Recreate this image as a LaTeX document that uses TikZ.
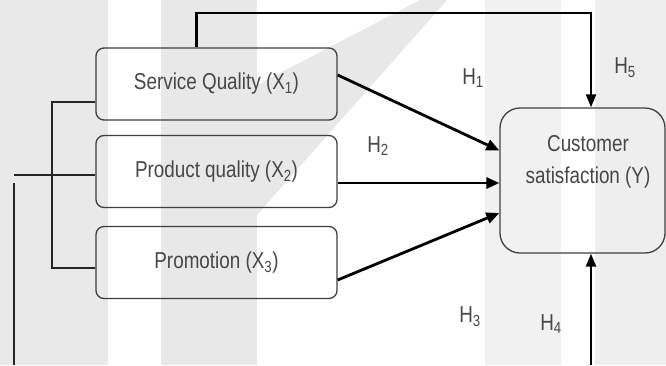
\documentclass[tikz,border=0pt]{standalone}
\usepackage{fontspec}
\setmainfont{Liberation Sans}[FakeStretch=0.82]
\usetikzlibrary{arrows.meta}
\begin{document}
\begin{tikzpicture}[x=1pt,y=-1pt,
  box/.style={draw=black!75, line width=1.3pt, rounded corners=8pt, minimum width=241pt, minimum height=72pt, inner sep=0pt, text=black!72, font=\fontsize{23}{30}\selectfont},
  ybox/.style={draw=black!75, line width=1.3pt, rounded corners=20pt, minimum width=165pt, minimum height=145pt, inner sep=0pt},
  txt/.style={text=black!72, font=\fontsize{23}{32}\selectfont, inner sep=0pt},
  arr/.style={line width=2.8pt, -{Triangle[length=13pt,width=11pt]}},
  varr/.style={line width=2.2pt, -{Triangle[length=13pt,width=10pt]}},
  thinline/.style={line width=1.3pt, draw=black!85},
]
\useasboundingbox (0,0) rectangle (666,365);
% watermark background
\fill[gray!17] (0,0) rectangle (108,365);
\fill[gray!18] (161,0) rectangle (257,365);
\fill[gray!18] (420,0) -- (447,0) -- (257,215) -- (257,85) -- cycle;
\fill[gray!11] (485,0) rectangle (561,365);
\fill[gray!13] (595,0) rectangle (666,365);
% nodes
\node[box] (x1) at (216.5,84) {Service Quality (X\textsubscript{1})};
\node[box] (x2) at (216.5,171.5) {Product quality (X\textsubscript{2})};
\node[box] (x3) at (216.5,262.5) {Promotion (X\textsubscript{3})};
\node[ybox] (Y) at (582.5,180.5) {};
\node[txt, align=center] (yt) at (588,162) {Customer\\satisfaction (Y)};
% labels
\node[txt] (h1) at (473,78) {H\textsubscript{1}};
\node[txt] (h2) at (378,146) {H\textsubscript{2}};
\node[txt] (h3) at (470,317) {H\textsubscript{3}};
\node[txt] (h4) at (551,324) {H\textsubscript{4}};
\node[txt] (h5) at (625,68) {H\textsubscript{5}};
% coordinates
\coordinate (lb) at (14,365);
\coordinate (lt) at (14,183);
\coordinate (lc) at (14,175);
\coordinate (brk) at (52,185);
\coordinate (bot) at (591,365);
% arrows
\draw[arr] ([yshift=9pt]x1.east) -- ([yshift=30pt]Y.west);
\draw[arr] ([yshift=-11.5pt]x2.east) -- ([yshift=-11.5pt]x2.east -| Y.west);
\draw[arr] ([yshift=-17.5pt]x3.east) -- ([yshift=-32.5pt]Y.west);
\draw[varr] ([xshift=-20pt]x1.north) |- ([xshift=8.5pt,yshift=94pt]Y.north) -- ([xshift=8.5pt]Y.north);
\draw[varr] (bot) -- ([xshift=8.5pt]Y.south);
% left connectors
\draw[thinline] (lb) -- (lt);
\draw[thinline] (lc) -- (lc -| x2.west);
\draw[thinline] ([yshift=-18pt]x1.west) -| (brk) |- ([yshift=-5.5pt]x3.west);
\end{tikzpicture}
\end{document}
